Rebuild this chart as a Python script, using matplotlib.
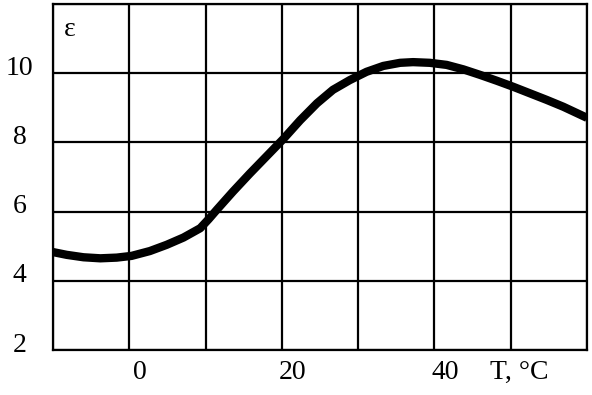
import matplotlib
matplotlib.use("Agg")
import matplotlib.pyplot as plt
import matplotlib.transforms as mtransforms
import numpy as np

# curve: temperature (°C) vs permittivity
temp = [-10, -8.2, -6.0, -3.8, -1.65, 0.3, 2.7, 4.9, 7.1, 9.3, 10.4, 11.5,
        13.6, 15.8, 18.0, 20.2, 22.4, 24.6, 26.7, 28.9, 31.1, 33.3, 35.5,
        37.2, 39.4, 41.6, 43.8, 46.0, 48.2, 50.3, 52.5, 54.7, 56.9, 60]
eps = [4.83, 4.75, 4.68, 4.65, 4.67, 4.72, 4.86, 5.04, 5.25, 5.52, 5.78, 6.06,
       6.58, 7.10, 7.60, 8.10, 8.64, 9.13, 9.52, 9.80, 10.04, 10.21, 10.30,
       10.32, 10.30, 10.24, 10.11, 9.95, 9.78, 9.61, 9.42, 9.23, 9.03, 8.71]

xgrid = [-10, 0, 10, 20, 30, 40, 50, 60]
xlabels = ["", "0", "", "20", "", "40", "", ""]
ygrid = [2, 4, 6, 8, 10, 12]
ylabels = ["2", "4", "6", "8", "10", ""]

plt.rcParams['font.family'] = ['Liberation Serif', 'DejaVu Serif']

fig = plt.figure(figsize=(5.92, 3.95), dpi=100)
ax = fig.add_axes([53/592, 45/395, 534/592, 346/395])

ax.plot(temp, eps, color='black', lw=6, solid_capstyle='butt',
        solid_joinstyle='round', zorder=3)

ax.set_xlim(-10, 60)
ax.set_ylim(2, 12)
ax.set_xticks(xgrid)
ax.set_xticklabels(xlabels)
ax.set_yticks(ygrid)
ax.set_yticklabels(ylabels)
ax.grid(True, color='black', lw=1.6)
for s in ax.spines.values():
    s.set_linewidth(1.6)
ax.tick_params(length=0, labelsize=20)
ax.tick_params(axis='x', pad=7)
ax.tick_params(axis='y', pad=24)

# shift tick labels like in the original
dx = mtransforms.ScaledTranslation(11/100, 0, fig.dpi_scale_trans)
for lab in ax.get_xticklabels():
    lab.set_transform(lab.get_transform() + dx)
dy = mtransforms.ScaledTranslation(0, 8/100, fig.dpi_scale_trans)
for lab in ax.get_yticklabels():
    lab.set_transform(lab.get_transform() + dy)
    lab.set_horizontalalignment('center')

ax.text(519/592, (395-372)/395, "T, °C", transform=fig.transFigure,
        ha='center', va='center', fontsize=20)
ax.text(70/592, (395-30)/395, "ε", transform=fig.transFigure,
        ha='center', va='center', fontsize=20)

fig.savefig("out.png", dpi=100)
